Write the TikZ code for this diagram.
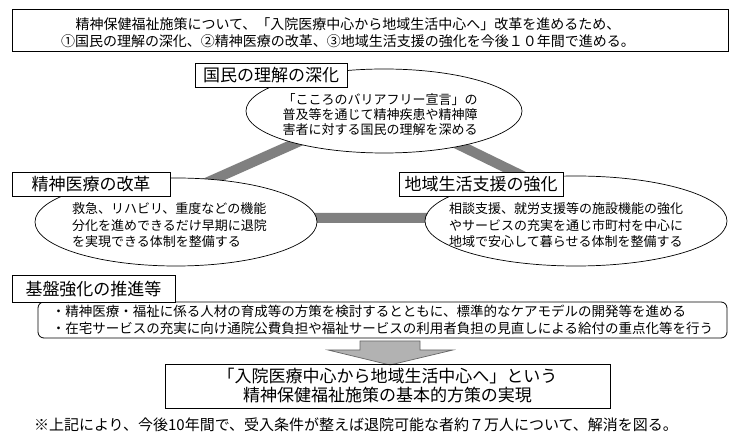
\documentclass[tikz,border=0pt]{standalone}
\usepackage{fontspec}
\setmainfont{Noto Sans CJK JP}
\usetikzlibrary{shapes.geometric}

\begin{document}
\begin{tikzpicture}[x=1pt, y=-1pt, every node/.style={font=\fontsize{13.5pt}{17pt}\selectfont, inner sep=0pt},
	frame/.style={draw, line width=0.8pt},
	title/.style={frame, fill=white, minimum height=24pt, font=\fontsize{17pt}{20pt}\selectfont},
	oval/.style={draw, ellipse, fill=white, line width=0.7pt},
	ovaltext/.style={align=left, font=\fontsize{13pt}{16.5pt}\selectfont},
	band/.style={line width=10pt, black!50, line join=miter}]
	\useasboundingbox (0,0) rectangle (740,443);
	\node[frame, minimum width=716pt, minimum height=42pt] (goal) at (370,30) {};
	\node[align=center, font=\fontsize{14pt}{17pt}\selectfont] (goaltext) at (348,32.5) {精神保健福祉施策について、「入院医療中心から地域生活中心へ」改革を進めるため、\\①国民の理解の深化、②精神医療の改革、③地域生活支援の強化を今後１０年間で進める。};
	% three pillars
	\coordinate (triT) at (379,106); \coordinate (triL) at (127,218); \coordinate (triR) at (609,218);
	\draw[band] (triT) -- (triL) -- (triR) -- cycle;
	\node[oval, minimum width=276pt, minimum height=84pt] (rikai) at (384,111) {};
	\node[oval, minimum width=282pt, minimum height=88pt] (iryo) at (176,222) {};
	\node[oval, minimum width=302pt, minimum height=90pt] (chiiki) at (576,221) {};
	\node[ovaltext, align=center, font=\fontsize{13pt}{15pt}\selectfont] (rikaitext) at (380,115) {「こころのバリアフリー宣言」の\\普及等を通じて精神疾患や精神障\\害者に対する国民の理解を深める};
	\node[ovaltext, anchor=west] (iryotext) at (72,225.5) {救急、リハビリ、重度などの機能\\分化を進めできるだけ早期に退院\\を実現できる体制を整備する};
	\node[ovaltext, anchor=west] (chiikitext) at (449,225.5) {相談支援、就労支援等の施設機能の強化\\やサービスの充実を通じ市町村を中心に\\地域で安心して暮らせる体制を整備する};
	\node[title, minimum width=152pt] (rikaititle) at (271,75) {国民の理解の深化};
	\node[title, minimum width=158pt] (iryotitle) at (91,184.5) {精神医療の改革};
	\node[title, minimum width=164pt] (chiikititle) at (481,184.5) {地域生活支援の強化};
	% foundation
	\node[frame, rounded corners=6pt, minimum width=689pt, minimum height=36pt, align=left] (kiban) at (382.5,320) {・精神医療・福祉に係る人材の育成等の方策を検討するとともに、標準的なケアモデルの開発等を進める\\・在宅サービスの充実に向け通院公費負担や福祉サービスの利用者負担の見直しによる給付の重点化等を行う};
	\node[title, minimum width=163pt, minimum height=27pt] (kibantitle) at (93.5,289) {基盤強化の推進等};
	\filldraw[fill=black!30, draw=black!60, line width=0.7pt] (360,341) -- (420,341) -- (420,350) -- (453,350) -- (390,365) -- (328,350) -- (360,350) -- cycle;
	\node[frame, minimum width=445pt, minimum height=44pt, align=center, font=\fontsize{17pt}{19pt}\selectfont] (goalreal) at (387.5,386) {「入院医療中心から地域生活中心へ」という\\精神保健福祉施策の基本的方策の実現};
	\node[font=\fontsize{15pt}{18pt}\selectfont] (note) at (356,425) {※上記により、今後10年間で、受入条件が整えば退院可能な者約７万人について、解消を図る。};
\end{tikzpicture}
\end{document}
